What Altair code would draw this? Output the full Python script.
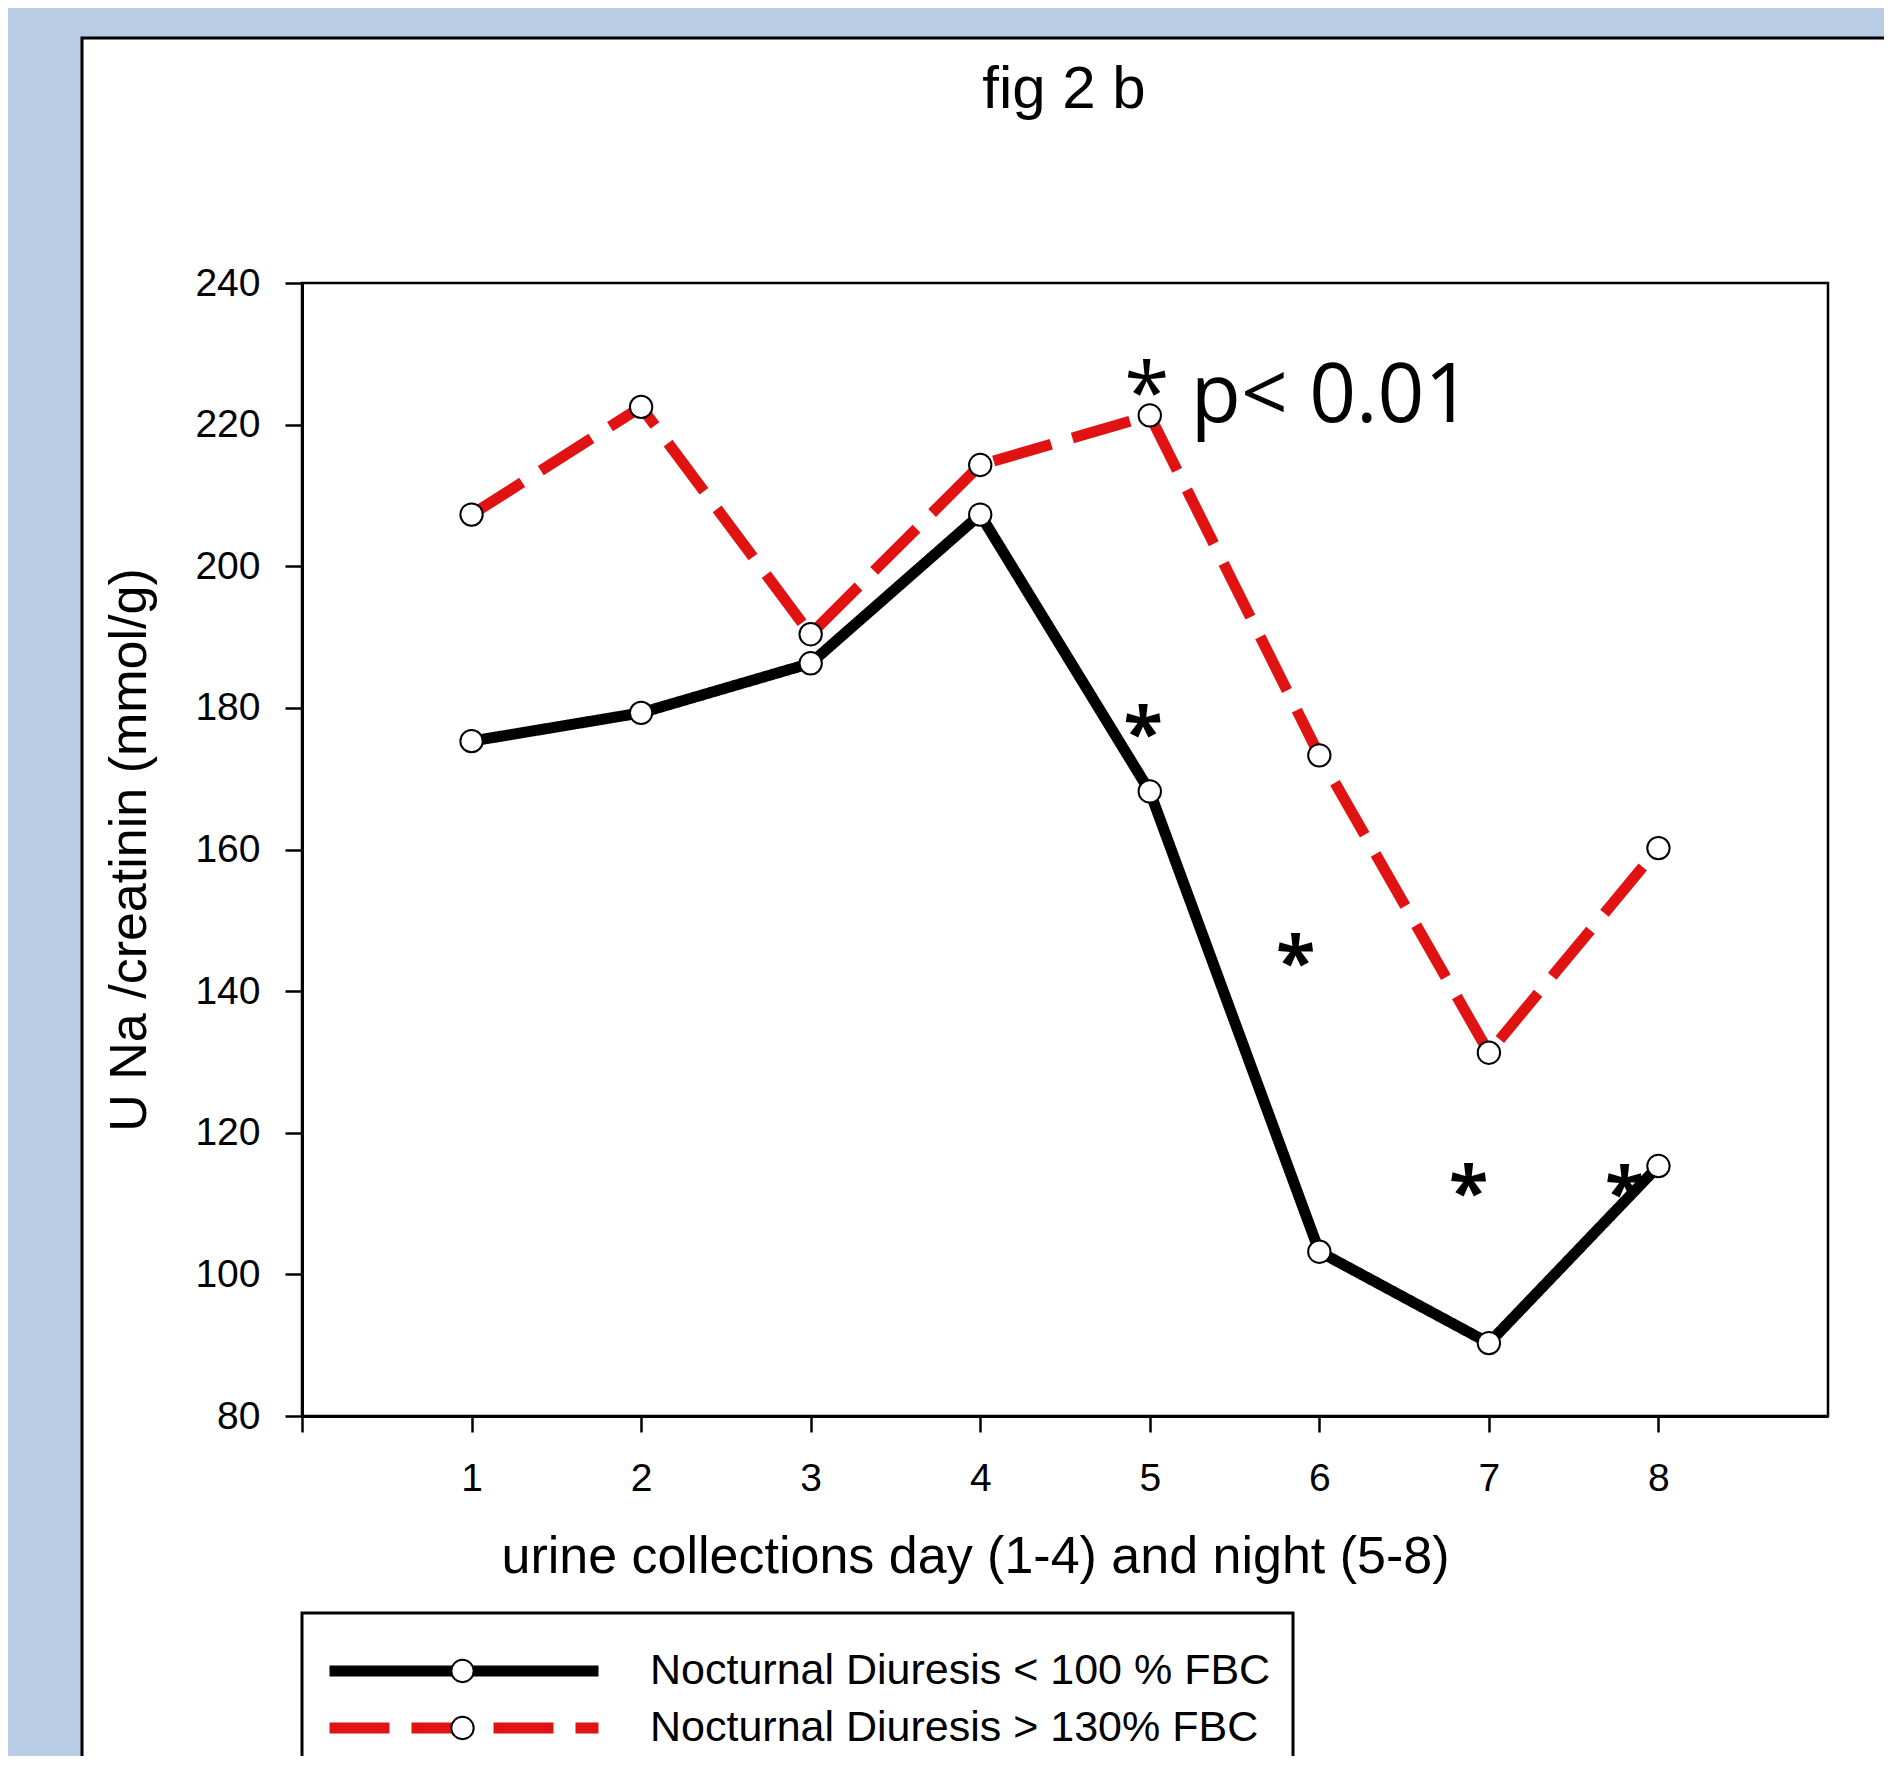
import altair as alt
import pandas as pd

# ---------------- data ----------------
collections = [1, 2, 3, 4, 5, 6, 7, 8]
group_names = ["Nocturnal Diuresis < 100 % FBC", "Nocturnal Diuresis > 130% FBC"]
below_100 = [175.3, 179.3, 186.3, 207.3, 168.2, 103.2, 90.3, 115.3]
above_130 = [207.3, 222.5, 190.4, 214.3, 221.3, 173.3, 131.3, 160.2]

star_x = [4.96, 5.86, 6.88, 7.80]
star_y = [178.5, 146.2, 113.7, 113.6]
note_x = [4.85]
note_y = [220.4]
note_text = ["* p< 0.01"]
chart_title = ["fig 2 b"]

x_ticks = [0, 1, 2, 3, 4, 5, 6, 7, 8]
y_ticks = [80, 100, 120, 140, 160, 180, 200, 220, 240]

rows = []
for i, (g, vals) in enumerate(zip(group_names, [below_100, above_130])):
    for x, v in zip(collections, vals):
        rows.append({"x": x, "value": v, "group": g, "grp2": i})
df = pd.DataFrame(rows)
stars = pd.DataFrame({"x": star_x, "y": star_y, "t": ["*"] * len(star_x)})
note = pd.DataFrame({"x": note_x, "y": note_y, "t": note_text})
title_df = pd.DataFrame({"t": chart_title})

W, H = 1526, 1133
FONT = "Liberation Sans"
RED = "#E01212"

xscale = alt.Scale(domain=[0, 9], nice=False, zero=False)
yscale = alt.Scale(domain=[80, 240], nice=False, zero=False)

x_axis = alt.Axis(
    values=x_ticks, format="d", labelExpr="datum.value == 0 ? '' : datum.label",
    tickSize=16, tickWidth=2.5, domainWidth=3, domainColor="black", tickColor="black",
    labelFont=FONT, labelFontSize=39, labelColor="black", labelPadding=27,
    title="urine collections day (1-4) and night (5-8)", titleFont=FONT,
    titleFontSize=52, titleFontWeight="normal", titleColor="black", titlePadding=33,
    titleX=673, titleAlign="center", grid=False, zindex=1,
)
y_axis = alt.Axis(
    values=y_ticks, tickSize=17, tickWidth=2.5, domainWidth=3, domainColor="black",
    tickColor="black", labelFont=FONT, labelFontSize=39, labelColor="black", labelPadding=25,
    title="U Na /creatinin (mmol/g)", titleFont=FONT, titleFontSize=52,
    titleFontWeight="normal", titleColor="black", titlePadding=38, grid=False, zindex=1,
)

LEG_PAD = 22
line_legend = alt.Legend(
    title=" ", titleFontSize=2, titlePadding=12.5, orient="none", legendX=0, legendY=1330,
    direction="vertical", symbolType="stroke", symbolSize=72361, symbolStrokeWidth=11,
    clipHeight=43, labelFont=FONT, labelFontSize=43, labelColor="black", labelOffset=46,
    labelLimit=2000, rowPadding=13, padding=LEG_PAD, strokeColor="black", fillColor="white",
    zindex=1,
)
circle_legend = alt.Legend(
    title=" ", titleFontSize=2, titlePadding=12.5, orient="none", legendX=117, legendY=1330,
    direction="vertical", symbolType="circle", symbolSize=500, symbolFillColor="white",
    symbolStrokeColor="black", symbolStrokeWidth=2, clipHeight=43, labelFont=FONT,
    labelFontSize=43, labelExpr="''", rowPadding=13, padding=LEG_PAD, zindex=2,
)

color_scale = alt.Scale(domain=group_names, range=["black", RED])
dash_scale = alt.Scale(domain=group_names, range=[[1, 0], [60, 22]])

one = alt.Data(values=[{}])
panel = alt.Chart(one).mark_rect(fill="white", stroke="black", strokeWidth=3).encode(
    x=alt.value(-220), x2=alt.value(W + 200), y=alt.value(-245), y2=alt.value(H + 500)
)
frame = alt.Chart(one).mark_rect(filled=False, stroke="black", strokeWidth=2.5).encode(
    x=alt.value(0), x2=alt.value(W), y=alt.value(0), y2=alt.value(H)
)
title_mark = alt.Chart(title_df).mark_text(font=FONT, fontSize=60, color="black",
                                           baseline="alphabetic", align="center").encode(
    x=alt.value(W / 2 - 1), y=alt.value(-175), text="t:N"
)

base = alt.Chart(df)
lines = base.mark_line(strokeWidth=11).encode(
    x=alt.X("x:Q", scale=xscale, axis=x_axis),
    y=alt.Y("value:Q", scale=yscale, axis=y_axis),
    color=alt.Color("group:N", scale=color_scale, legend=line_legend),
    strokeDash=alt.StrokeDash("group:N", scale=dash_scale, legend=line_legend),
)
points = base.mark_point(filled=False, fill="white", strokeWidth=2,
                         size=500, opacity=1, fillOpacity=1).encode(
    x=alt.X("x:Q", scale=xscale),
    y=alt.Y("value:Q", scale=yscale),
    shape=alt.Shape("grp2:N", scale=alt.Scale(range=["circle", "circle"]),
                    legend=circle_legend),
    stroke=alt.Stroke("grp2:N", scale=alt.Scale(range=["black", "black"]),
                      legend=circle_legend),
)
star_marks = alt.Chart(stars).mark_text(font="Open Sans", fontSize=72, fontWeight="bold",
                                        color="black", baseline="alphabetic", align="center",
                                        dy=41).encode(
    x=alt.X("x:Q", scale=xscale), y=alt.Y("y:Q", scale=yscale), text="t:N"
)
note_mark = alt.Chart(note).mark_text(font="Open Sans", fontSize=82, color="black",
                                      baseline="alphabetic", align="left").encode(
    x=alt.X("x:Q", scale=xscale), y=alt.Y("y:Q", scale=yscale), text="t:N"
)

chart = alt.layer(panel, frame, title_mark, lines, points, star_marks, note_mark).properties(
    width=W, height=H,
    background="#B8CCE4",
    autosize=alt.AutoSizeParams(type="none"),
    padding={"left": 294, "top": 275, "right": 56, "bottom": 340},
).configure_view(strokeWidth=0).configure_legend(strokeWidth=3)

chart.save("out.html", embed_options={"renderer": "svg", "actions": False})
